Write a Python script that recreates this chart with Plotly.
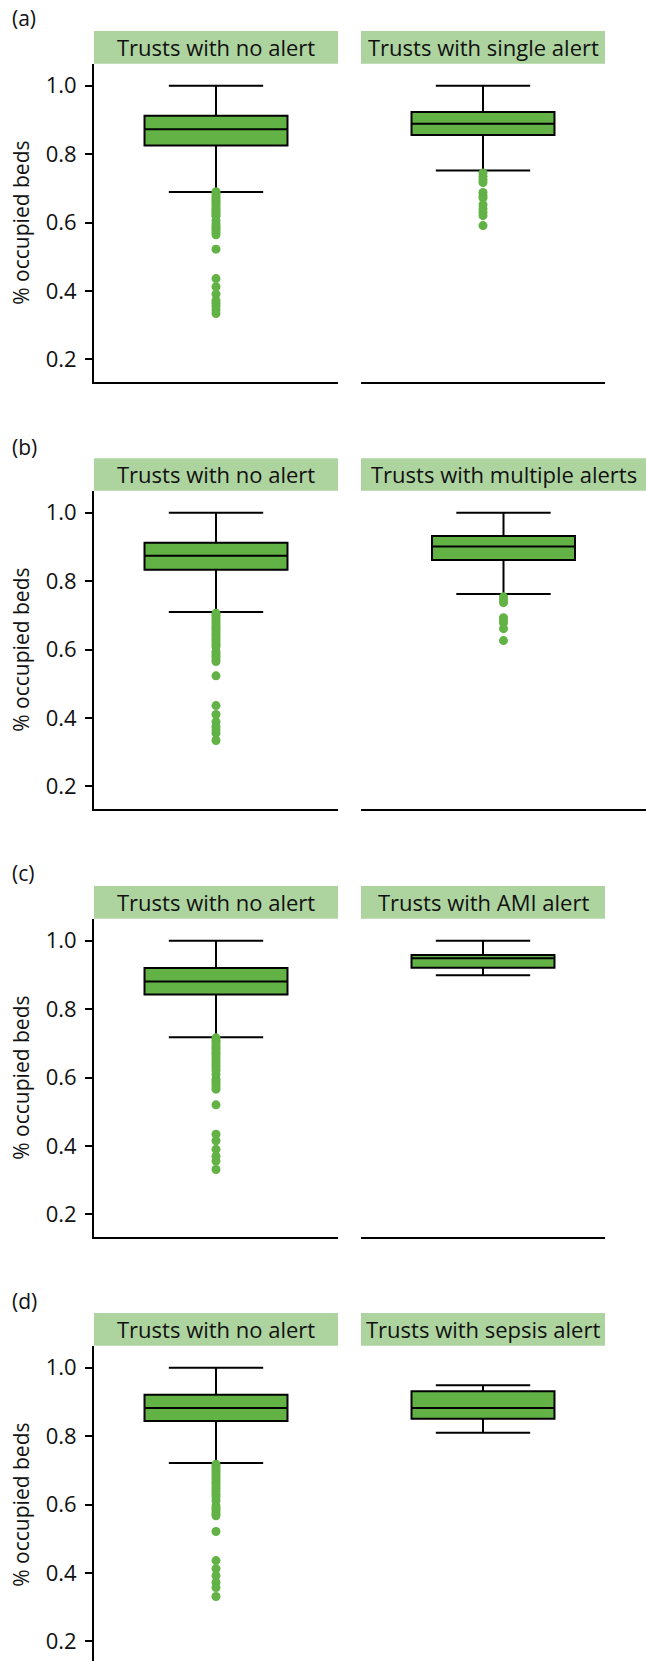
import plotly.graph_objects as go

# ---- data -------------------------------------------------------------
panel_tags = ["(a)", "(b)", "(c)", "(d)"]
reference_group = "Trusts with no alert"
alert_groups = [
    "Trusts with single alert",
    "Trusts with multiple alerts",
    "Trusts with AMI alert",
    "Trusts with sepsis alert",
]
y_title = "% occupied beds"
tick_values = [0.2, 0.4, 0.6, 0.8, 1.0]
tick_labels = ["0.2", "0.4", "0.6", "0.8", "1.0"]

# five-number summaries: lower whisker, Q1, median, Q3, upper whisker
no_alert_stats = [
    [0.689, 0.825, 0.873, 0.912, 1.000],
    [0.710, 0.833, 0.874, 0.912, 1.000],
    [0.718, 0.843, 0.881, 0.920, 1.000],
    [0.721, 0.844, 0.882, 0.921, 1.000],
]
alert_stats = [
    [0.752, 0.856, 0.889, 0.923, 1.000],
    [0.762, 0.862, 0.901, 0.932, 1.000],
    [0.899, 0.921, 0.949, 0.958, 1.000],
    [0.810, 0.851, 0.882, 0.931, 0.949],
]

no_alert_outliers = [
    [0.690, 0.684, 0.678, 0.672, 0.666, 0.660, 0.654, 0.648, 0.642, 0.636,
     0.630, 0.624, 0.618, 0.605, 0.596, 0.590, 0.584, 0.578, 0.571, 0.564,
     0.522, 0.436, 0.412, 0.391, 0.372, 0.364, 0.356, 0.345, 0.334],
    [0.706, 0.700, 0.693, 0.686, 0.679, 0.672, 0.665, 0.658, 0.651, 0.644,
     0.637, 0.630, 0.622, 0.615, 0.608, 0.594, 0.587, 0.580, 0.572, 0.565,
     0.523, 0.436, 0.410, 0.389, 0.375, 0.365, 0.355, 0.334],
    [0.716, 0.709, 0.702, 0.695, 0.688, 0.681, 0.674, 0.667, 0.660, 0.652,
     0.644, 0.636, 0.628, 0.620, 0.609, 0.595, 0.588, 0.581, 0.573, 0.566,
     0.520, 0.434, 0.415, 0.390, 0.370, 0.356, 0.331],
    [0.718, 0.711, 0.704, 0.697, 0.690, 0.683, 0.676, 0.669, 0.662, 0.654,
     0.646, 0.638, 0.630, 0.622, 0.611, 0.596, 0.589, 0.582, 0.574, 0.567,
     0.521, 0.436, 0.412, 0.392, 0.372, 0.357, 0.331],
]
alert_outliers = [
    [0.745, 0.735, 0.725, 0.717, 0.688, 0.678, 0.672, 0.652, 0.640, 0.630,
     0.620, 0.591],
    [0.754, 0.745, 0.737, 0.693, 0.685, 0.678, 0.661, 0.626],
    [],
    [],
]

# ---- styling / geometry -------------------------------------------------
W, H = 646, 1661
GREEN = "#62b246"
STRIP = "#add49f"
INK = "#111111"
FONT = "Open Sans"

PX_PER_UNIT = 342.0          # vertical pixels per 1.0 on the y scale
Y_TOP = 1.0 + 22.0 / PX_PER_UNIT
PX_PER_CAT = 244.0           # horizontal pixels per category unit

left_px = (94, 338)
right_px = [(361, 605), (361, 646), (361, 605), (361, 605)]
strip_top = [31.0, 458.3, 886.0, 1313.0]
plot_top = [63.7, 490.7, 918.7, 1345.7]
plot_bot = [381.7, 808.7, 1236.7, 1661.0]
tag_y = [18.3, 446.7, 873.3, 1301.0]


def px_x(v):
    return v / W


def px_y(v):
    return 1.0 - v / H


fig = go.Figure()
layout = {}
shapes = []
annotations = []

for i in range(4):
    groups = [reference_group, alert_groups[i]]
    stats = [no_alert_stats[i], alert_stats[i]]
    outs = [no_alert_outliers[i], alert_outliers[i]]
    xs = [left_px, right_px[i]]
    y_lo = Y_TOP - (plot_bot[i] - plot_top[i]) / PX_PER_UNIT

    for j in range(2):
        n = 2 * i + j + 1
        xname = "x" if n == 1 else f"x{n}"
        yname = "y" if n == 1 else f"y{n}"
        xkey = "xaxis" if n == 1 else f"xaxis{n}"
        ykey = "yaxis" if n == 1 else f"yaxis{n}"
        x0, x1 = xs[j]
        half = (x1 - x0) / PX_PER_CAT / 2.0
        s = stats[j]

        fig.add_trace(go.Box(
            x=[groups[j]], lowerfence=[s[0]], q1=[s[1]], median=[s[2]],
            q3=[s[3]], upperfence=[s[4]],
            width=0.586, whiskerwidth=0.66,
            fillcolor=GREEN, line=dict(color="black", width=2),
            boxpoints=False, showlegend=False,
            xaxis=xname, yaxis=yname,
        ))
        if outs[j]:
            fig.add_trace(go.Scatter(
                x=[groups[j]] * len(outs[j]), y=outs[j], mode="markers",
                marker=dict(size=9, color=GREEN, line=dict(width=0)),
                showlegend=False, xaxis=xname, yaxis=yname,
            ))

        layout[xkey] = dict(
            domain=[px_x(x0), px_x(x1)], anchor=yname, type="category",
            range=[-half, half], showticklabels=False, ticks="",
            showgrid=False, zeroline=False,
            showline=(i < 3), linecolor="black", linewidth=2,
        )
        ydict = dict(
            domain=[px_y(plot_bot[i]), px_y(plot_top[i])], anchor=xname,
            range=[y_lo, Y_TOP], showgrid=False, zeroline=False,
        )
        if j == 0:
            ydict.update(
                showline=True, linecolor="black", linewidth=2,
                ticks="outside", ticklen=7, tickwidth=1.5, tickcolor="black",
                tickvals=tick_values, ticktext=tick_labels,
                tickfont=dict(family=FONT, size=22, color=INK),
                ticklabelstandoff=4,
            )
        else:
            ydict.update(showline=False, showticklabels=False, ticks="")
        layout[ykey] = ydict

        # facet strip
        shapes.append(dict(
            type="rect", xref="paper", yref="paper",
            x0=px_x(x0), x1=px_x(x1),
            y0=px_y(plot_top[i]), y1=px_y(strip_top[i]),
            fillcolor=STRIP, line=dict(width=0), layer="below",
        ))
        annotations.append(dict(
            text=groups[j], xref="paper", yref="paper",
            x=px_x((x0 + x1) / 2), y=px_y((strip_top[i] + plot_top[i]) / 2),
            xanchor="center", yanchor="middle", showarrow=False,
            font=dict(family=FONT, size=22, color=INK),
        ))

    # panel tag and y-axis title
    annotations.append(dict(
        text=panel_tags[i], xref="paper", yref="paper",
        x=px_x(10), y=px_y(tag_y[i]), xanchor="left", yanchor="middle",
        showarrow=False, font=dict(family=FONT, size=21, color=INK),
    ))
    annotations.append(dict(
        text=y_title, xref="paper", yref="paper", textangle=-90,
        x=px_x(21), y=px_y(plot_top[i] + 159), xanchor="center",
        yanchor="middle", showarrow=False,
        font=dict(family=FONT, size=21, color=INK),
    ))

fig.update_layout(
    width=W, height=H, margin=dict(l=0, r=0, t=0, b=0),
    paper_bgcolor="white", plot_bgcolor="white",
    shapes=shapes, annotations=annotations, **layout,
)

fig.write_html("out.html")
